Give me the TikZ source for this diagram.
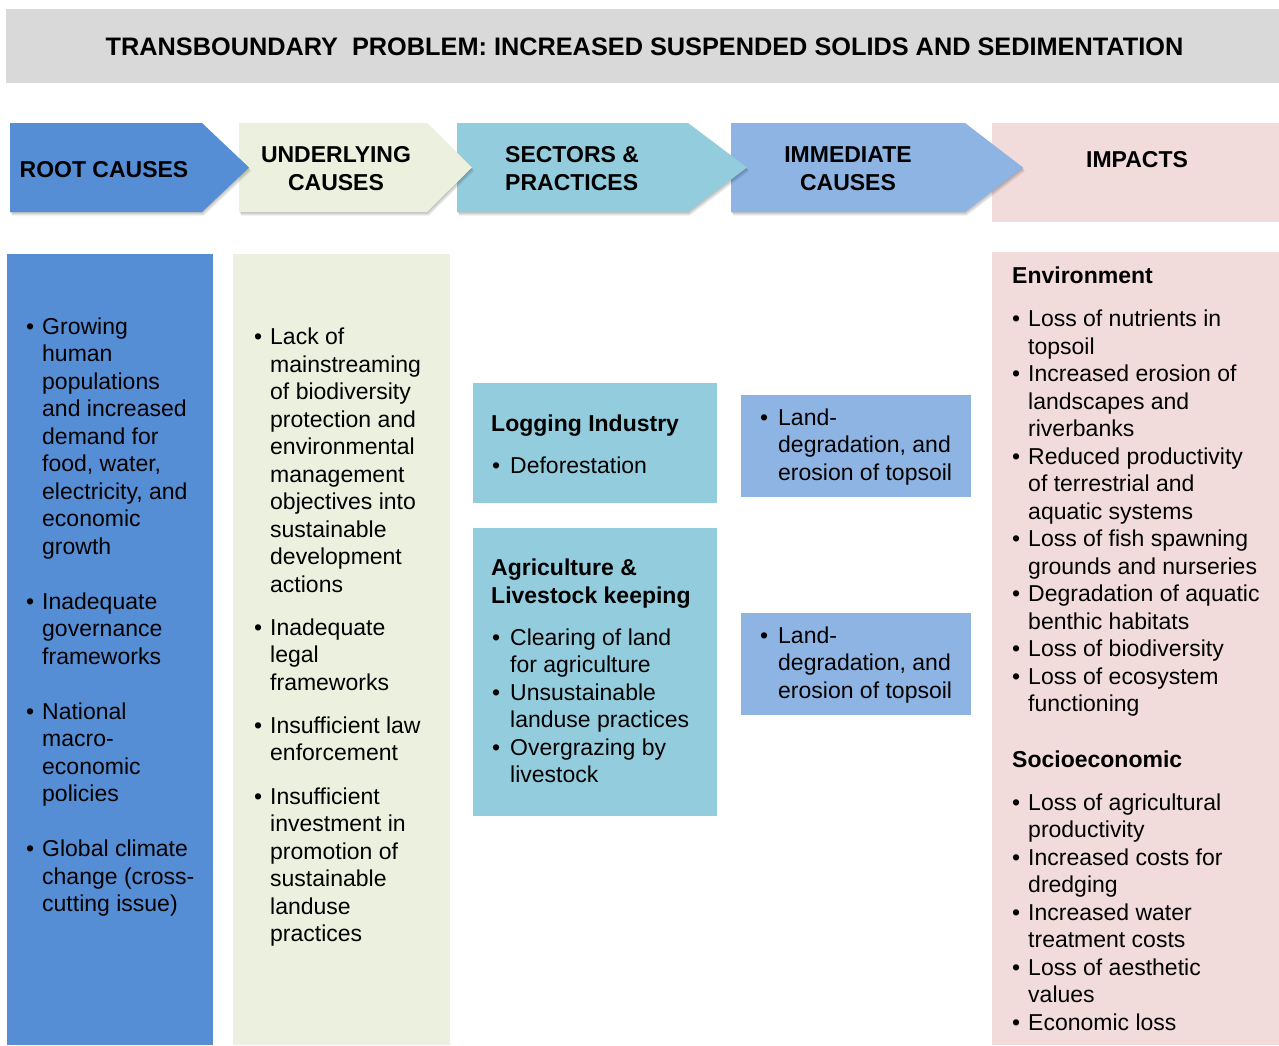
\documentclass[tikz,border=0pt]{standalone}
\usepackage{fontspec}
\setmainfont{Liberation Sans}
\definecolor{titlegray}{HTML}{D9D9D9}
\definecolor{rootblue}{HTML}{558ED5}
\definecolor{undercream}{HTML}{EBF1DE}
\definecolor{sectteal}{HTML}{93CDDD}
\definecolor{immblue}{HTML}{8EB4E3}
\definecolor{imppink}{HTML}{F2DCDB}
\newcommand\bodyfont{\fontsize{23}{27.5}\selectfont}
\newcommand\headfont{\fontsize{23}{28}\selectfont\bfseries}
% \bitem{name}{bullet x}{text x}{baseline y}{lines}
\newcommand\bitem[5]{%
  \node[txt] (#1b) at (#2,#4) {\textbullet};
  \node[txt] (#1) at (#3,#4) {\parbox[t]{320pt}{\bodyfont #5}};
}
% \chevshape{colour}{left x}{corner x}{tip x}
\newcommand\chevshape[4]{%
  \foreach \s in {0.5,1.5,2.5,3.5}
    \fill[black, opacity=0.07, shift={(\s*0.6,\s)}]
      (#2,123) -- (#3,123) -- (#4,167.5) -- (#3,212) -- (#2,212) -- cycle;
  \fill[#1] (#2,123) -- (#3,123) -- (#4,167.5) -- (#3,212) -- (#2,212) -- cycle;
}
\begin{document}
\begin{tikzpicture}[x=1pt,y=-1pt,
  txt/.style={anchor=base west, inner sep=0pt, font=\bodyfont},
  hdr/.style={anchor=base west, inner sep=0pt, font=\headfont},
  ctext/.style={anchor=base, inner sep=0pt, font=\headfont}]
\useasboundingbox (0,0) rectangle (1279,1045);
\fill[white] (0,0) rectangle (1279,1045);

% title bar
\fill[titlegray] (6,9) rectangle (1279,83);
\node[anchor=base, inner sep=0pt, font=\fontsize{25.3}{28}\selectfont\bfseries] (title) at (644.5,55)
  {TRANSBOUNDARY\ \ PROBLEM: INCREASED SUSPENDED SOLIDS AND SEDIMENTATION};

% columns
\fill[rootblue] (7,254) rectangle (213,1045);
\fill[undercream] (233,254) rectangle (450,1045);
\fill[imppink] (992,252) rectangle (1279,1045);

% chevrons (drawn right to left so each tip lies over the next shape)
\fill[imppink] (992,123) rectangle (1279,222);
\chevshape{immblue}{731}{965}{1023}
\chevshape{sectteal}{457}{688}{747}
\chevshape{undercream}{239}{427}{472}
\chevshape{rootblue}{10}{202}{249}

\node[ctext] (root) at (104,177) {ROOT CAUSES};
\node[ctext] (under) at (336,162) {\parbox[t]{200pt}{\centering UNDERLYING\\CAUSES}};
\node[hdr] (sect) at (505,162) {\parbox[t]{200pt}{SECTORS \&\\PRACTICES}};
\node[ctext] (immed) at (848,162) {\parbox[t]{200pt}{\centering IMMEDIATE\\CAUSES}};
\node[ctext] (impacts) at (1137,167) {IMPACTS};

% sector boxes
\fill[sectteal] (473,383) rectangle (717,503);
\fill[sectteal] (473,528) rectangle (717,816);
% immediate boxes
\fill[immblue] (741,395) rectangle (971,497);
\fill[immblue] (741,613) rectangle (971,715);

% root causes text
\bitem{r1}{26}{42}{334}{Growing\\human\\populations\\and increased\\demand for\\food, water,\\electricity, and\\economic\\growth}
\bitem{r2}{26}{42}{609}{Inadequate\\governance\\frameworks}
\bitem{r3}{26}{42}{719}{National\\macro-\\economic\\policies}
\bitem{r4}{26}{42}{856.5}{Global climate\\change (cross-\\cutting issue)}

% underlying causes text
\bitem{u1}{254}{270}{344.5}{Lack of\\mainstreaming\\of biodiversity\\protection and\\environmental\\management\\objectives into\\sustainable\\development\\actions}
\bitem{u2}{254}{270}{635}{Inadequate\\legal\\frameworks}
\bitem{u3}{254}{270}{733}{Insufficient law\\enforcement}
\bitem{u4}{254}{270}{804}{Insufficient\\investment in\\promotion of\\sustainable\\landuse\\practices}

% sectors text
\node[hdr] (logh) at (491,431) {Logging Industry};
\bitem{s1}{492}{510}{473}{Deforestation}
\node[hdr] (agrh) at (491,575) {\parbox[t]{240pt}{Agriculture \&\\Livestock keeping}};
\bitem{s2}{492}{510}{645}{Clearing of land\\for agriculture}
\bitem{s3}{492}{510}{700}{Unsustainable\\landuse practices}
\bitem{s4}{492}{510}{755}{Overgrazing by\\livestock}

% immediate causes text
\bitem{i1}{760}{778}{425}{Land-\\degradation, and\\erosion of topsoil}
\bitem{i2}{760}{778}{643}{Land-\\degradation, and\\erosion of topsoil}

% impacts text
\node[hdr] (envh) at (1012,283) {Environment};
\bitem{e1}{1012}{1028}{326.5}{Loss of nutrients in\\topsoil}
\bitem{e2}{1012}{1028}{381.5}{Increased erosion of\\landscapes and\\riverbanks}
\bitem{e3}{1012}{1028}{464}{Reduced productivity\\of terrestrial and\\aquatic systems}
\bitem{e4}{1012}{1028}{546.5}{Loss of fish spawning\\grounds and nurseries}
\bitem{e5}{1012}{1028}{601.5}{Degradation of aquatic\\benthic habitats}
\bitem{e6}{1012}{1028}{656.5}{Loss of biodiversity}
\bitem{e7}{1012}{1028}{684}{Loss of ecosystem\\functioning}
\node[hdr] (soch) at (1012,767) {Socioeconomic};
\bitem{p1}{1012}{1028}{810}{Loss of agricultural\\productivity}
\bitem{p2}{1012}{1028}{865}{Increased costs for\\dredging}
\bitem{p3}{1012}{1028}{920}{Increased water\\treatment costs}
\bitem{p4}{1012}{1028}{975}{Loss of aesthetic\\values}
\bitem{p5}{1012}{1028}{1030}{Economic loss}
\end{tikzpicture}
\end{document}
